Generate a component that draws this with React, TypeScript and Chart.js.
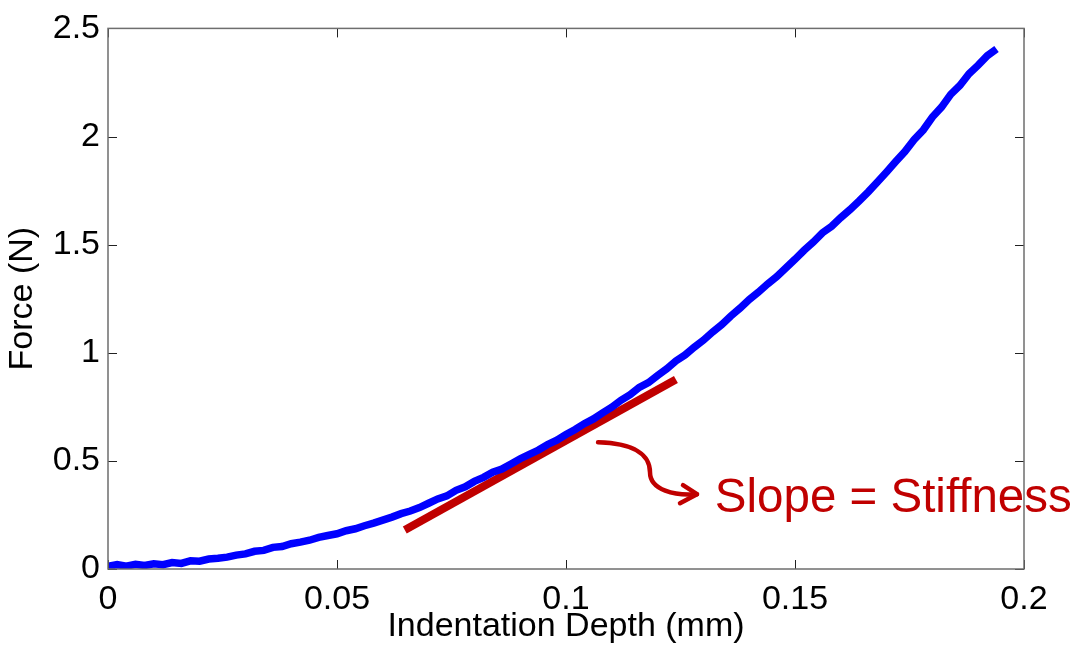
import React, { useEffect, useRef } from "react";
import { Chart, registerables } from "chart.js";

Chart.register(...registerables);

const depth = [
  0.0, 0.002, 0.004, 0.006, 0.008, 0.01, 0.012, 0.014, 0.016, 0.018, 0.02, 0.022, 0.024, 0.026, 0.028, 0.03,
  0.032, 0.034, 0.036, 0.038, 0.04, 0.042, 0.044, 0.046, 0.048, 0.05, 0.052, 0.054, 0.056, 0.058, 0.06,
  0.062, 0.064, 0.066, 0.068, 0.07, 0.072, 0.074, 0.076, 0.078, 0.08, 0.082, 0.084, 0.086, 0.088, 0.09,
  0.092, 0.094, 0.096, 0.098, 0.1, 0.102, 0.104, 0.106, 0.108, 0.11, 0.112, 0.114, 0.116, 0.118, 0.12,
  0.122, 0.124, 0.126, 0.128, 0.13, 0.132, 0.134, 0.136, 0.138, 0.14, 0.142, 0.144, 0.146, 0.148, 0.15,
  0.152, 0.154, 0.156, 0.158, 0.16, 0.162, 0.164, 0.166, 0.168, 0.17, 0.172, 0.174, 0.176, 0.178, 0.18,
  0.182, 0.184, 0.186, 0.188, 0.19, 0.192, 0.194,
];
const force = [
  0.012, 0.02, 0.013, 0.022, 0.016, 0.024, 0.02, 0.03, 0.026, 0.038, 0.036, 0.046, 0.05, 0.055, 0.064, 0.07,
  0.082, 0.086, 0.1, 0.104, 0.117, 0.124, 0.133, 0.146, 0.155, 0.163, 0.177, 0.186, 0.2, 0.212, 0.226,
  0.24, 0.256, 0.268, 0.284, 0.304, 0.324, 0.338, 0.364, 0.38, 0.405, 0.424, 0.448, 0.462, 0.486, 0.51,
  0.53, 0.55, 0.576, 0.596, 0.622, 0.645, 0.672, 0.694, 0.722, 0.748, 0.78, 0.806, 0.84, 0.862, 0.895,
  0.926, 0.962, 0.99, 1.026, 1.058, 1.096, 1.13, 1.17, 1.206, 1.246, 1.28, 1.318, 1.352, 1.392, 1.432,
  1.474, 1.512, 1.555, 1.585, 1.625, 1.662, 1.702, 1.744, 1.79, 1.836, 1.884, 1.93, 1.985, 2.03, 2.09,
  2.136, 2.195, 2.236, 2.29, 2.33, 2.374, 2.405,
];

// Tangent (stiffness) line
const tangentDepth = [0.0648, 0.124];
const tangentForce = [0.18, 0.876];

// Annotation: curved arrow (data coords: start, c1, c2, mid, c3, c4, tip) and arrowhead barbs
const arrowDepth = [0.107, 0.11507, 0.11834, 0.11834, 0.11834, 0.1238, 0.1286];
const arrowForce = [0.5858, 0.5812, 0.5258, 0.4474, 0.3644, 0.3367, 0.3459];
const barbDepth = [0.12555, 0.12489];
const barbForce = [0.3875, 0.3044];
const noteText = "Slope = Stiffness";
const noteDepth = 0.1325;
const noteForce = 0.263;

const xTicks = [0, 0.05, 0.1, 0.15, 0.2];
const yTicks = [0, 0.5, 1, 1.5, 2, 2.5];

const FONT = "'Liberation Sans', Arial, sans-serif";
const RED = "#C00000";

const boxPlugin = {
  id: "boxAndNotes",
  afterDatasetsDraw(chart: any) {
    const { ctx, chartArea: a, scales } = chart;
    const xs = scales.x;
    const ys = scales.y;
    ctx.save();
    // ticks (inward, all four sides)
    ctx.strokeStyle = "#222";
    ctx.lineWidth = 1;
    const tl = 9;
    xTicks.forEach((v) => {
      const px = Math.round(xs.getPixelForValue(v)) + 0.5;
      ctx.beginPath();
      ctx.moveTo(px, a.bottom);
      ctx.lineTo(px, a.bottom - tl);
      ctx.moveTo(px, a.top);
      ctx.lineTo(px, a.top + tl);
      ctx.stroke();
    });
    yTicks.forEach((v) => {
      const py = Math.round(ys.getPixelForValue(v)) + 0.5;
      ctx.beginPath();
      ctx.moveTo(a.left, py);
      ctx.lineTo(a.left + tl, py);
      ctx.moveTo(a.right, py);
      ctx.lineTo(a.right - tl, py);
      ctx.stroke();
    });
    // box
    ctx.strokeStyle = "#6e6e6e";
    ctx.lineWidth = 1.5;
    ctx.strokeRect(a.left, a.top, a.right - a.left, a.bottom - a.top);

    // curved arrow
    const P = arrowDepth.map((d, i) => [xs.getPixelForValue(d), ys.getPixelForValue(arrowForce[i])]);
    ctx.strokeStyle = RED;
    ctx.lineWidth = 4.5;
    ctx.lineCap = "round";
    ctx.lineJoin = "round";
    ctx.beginPath();
    ctx.moveTo(P[0][0], P[0][1]);
    ctx.bezierCurveTo(P[1][0], P[1][1], P[2][0], P[2][1], P[3][0], P[3][1]);
    ctx.bezierCurveTo(P[4][0], P[4][1], P[5][0], P[5][1], P[6][0], P[6][1]);
    ctx.stroke();
    ctx.beginPath();
    ctx.moveTo(xs.getPixelForValue(barbDepth[0]), ys.getPixelForValue(barbForce[0]));
    ctx.lineTo(P[6][0], P[6][1]);
    ctx.lineTo(xs.getPixelForValue(barbDepth[1]), ys.getPixelForValue(barbForce[1]));
    ctx.stroke();

    // note text
    ctx.fillStyle = RED;
    ctx.font = `47.5px ${FONT}`;
    ctx.textAlign = "left";
    ctx.textBaseline = "alphabetic";
    ctx.fillText(noteText, xs.getPixelForValue(noteDepth), ys.getPixelForValue(noteForce));
    ctx.restore();
  },
};

export default function App() {
  const ref = useRef<HTMLCanvasElement | null>(null);
  useEffect(() => {
    document.body.style.margin = "0";
    const canvas = ref.current!;
    const chart = new Chart(canvas, {
      type: "line",
      data: {
        datasets: [
          {
            label: "Force",
            data: depth.map((d, i) => ({ x: d, y: force[i] })),
            borderColor: "#0000FF",
            borderWidth: 7.5,
            pointRadius: 0,
            tension: 0,
            fill: false,
          },
          {
            label: "Tangent",
            data: tangentDepth.map((d, i) => ({ x: d, y: tangentForce[i] })),
            borderColor: RED,
            borderWidth: 8,
            pointRadius: 0,
            borderCapStyle: "butt",
            fill: false,
          },
        ],
      },
      options: {
        responsive: false,
        animation: false,
        layout: { padding: { top: 27, right: 52, left: 0, bottom: 0 } },
        plugins: { legend: { display: false }, tooltip: { enabled: false } },
        scales: {
          x: {
            type: "linear",
            min: 0,
            max: 0.2,
            afterBuildTicks: (s: any) => {
              s.ticks = xTicks.map((v) => ({ value: v }));
            },
            afterFit: (s: any) => {
              s.height = 77;
            },
            grid: { display: false, drawTicks: false },
            border: { display: false },
            ticks: {
              padding: 10,
              color: "#000",
              font: { family: FONT, size: 34 },
              maxRotation: 0,
              callback: (v: any) => String(Number(Number(v).toFixed(3))),
            },
            title: {
              display: true,
              text: "Indentation Depth (mm)",
              color: "#000",
              font: { family: FONT, size: 34, lineHeight: 1 },
              padding: { top: 0, bottom: 2 },
            },
          },
          y: {
            type: "linear",
            min: 0,
            max: 2.5,
            afterBuildTicks: (s: any) => {
              s.ticks = yTicks.map((v) => ({ value: v }));
            },
            afterFit: (s: any) => {
              s.width = 108;
            },
            grid: { display: false, drawTicks: false },
            border: { display: false },
            ticks: {
              padding: 8,
              color: "#000",
              font: { family: FONT, size: 34 },
              callback: (v: any) => String(Number(Number(v).toFixed(2))),
            },
            title: {
              display: true,
              text: "Force (N)",
              color: "#000",
              font: { family: FONT, size: 34, lineHeight: 1 },
              padding: { top: 6, bottom: 0 },
            },
          },
        },
      },
      plugins: [boxPlugin],
    } as any);
    return () => chart.destroy();
  }, []);
  return <canvas ref={ref} width={1076} height={646} style={{ display: "block" }} />;
}
